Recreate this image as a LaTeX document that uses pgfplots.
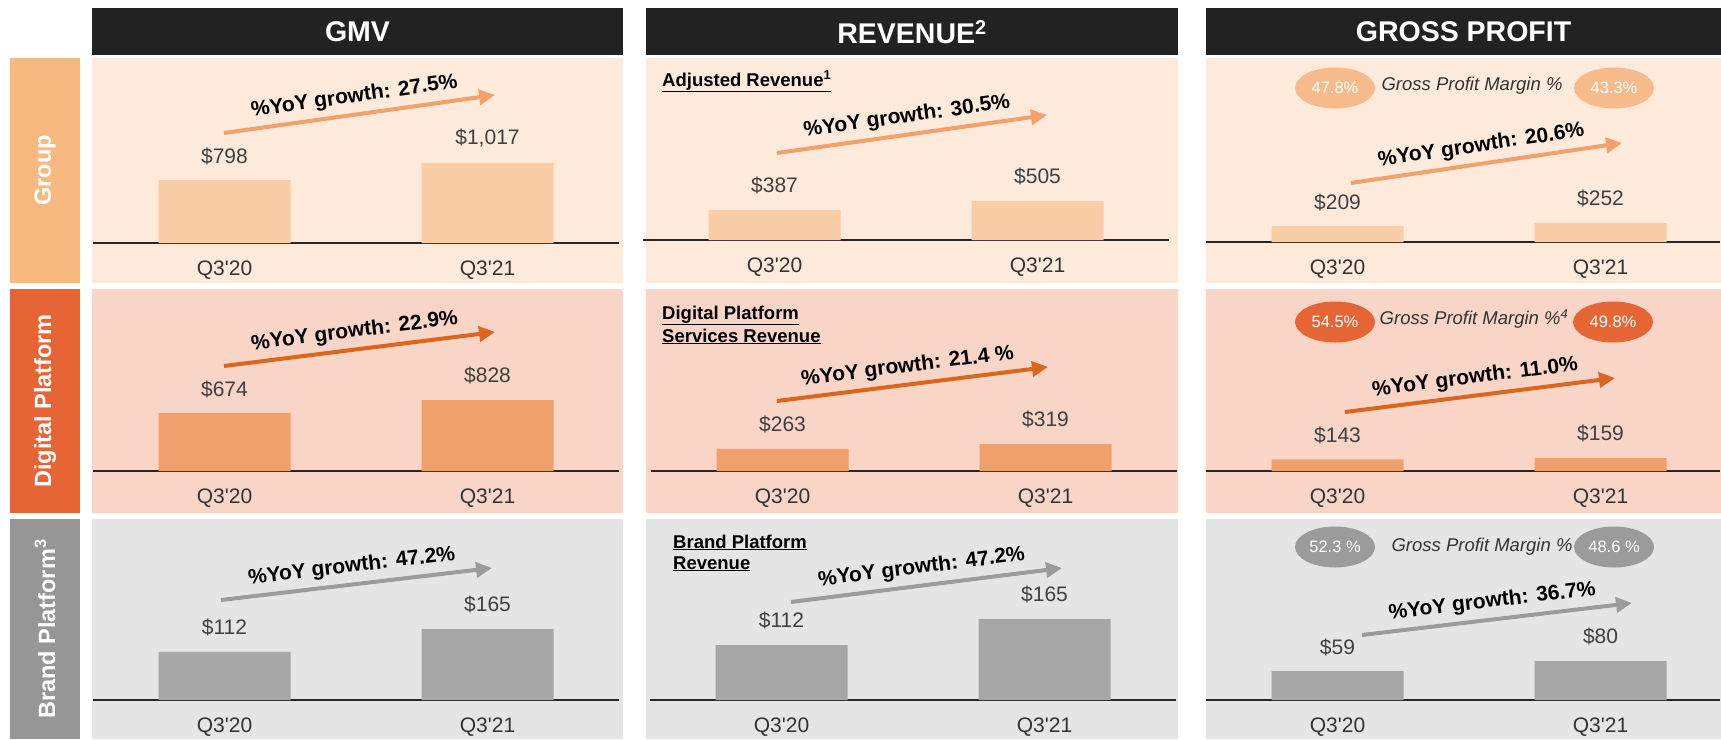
\documentclass[border=0pt]{standalone}
\usepackage{fontspec}
\setmainfont{Liberation Sans}[Ligatures=TeXOff]
\usepackage{pgfplots}
\pgfplotsset{compat=1.18}
\usetikzlibrary{arrows.meta}

\definecolor{hdr}{HTML}{222222}
\definecolor{strip1}{HTML}{F8B981}
\definecolor{bg1}{HTML}{FDEADB}
\definecolor{bar1}{HTML}{F9CEA7}
\definecolor{arr1}{HTML}{F2A16C}
\definecolor{ell1}{HTML}{F7BA8B}
\definecolor{strip2}{HTML}{E66534}
\definecolor{bg2}{HTML}{F8D5C6}
\definecolor{bar2}{HTML}{F0A06B}
\definecolor{arr2}{HTML}{DC6520}
\definecolor{strip3}{HTML}{969696}
\definecolor{bg3}{HTML}{E5E5E5}
\definecolor{bar3}{HTML}{A6A6A6}
\definecolor{arr3}{HTML}{9B9B9B}
\definecolor{axisc}{HTML}{262626}
\definecolor{valc}{HTML}{404040}
\definecolor{tickc}{HTML}{333333}

\newcommand\fs[1]{\fontsize{#1}{#1}\selectfont}

\pgfplotsset{
  panel/.style={
    x=263pt, xmin=-0.5, xmax=1.5, ymin=0,
    enlargelimits=false, clip=false,
    axis x line=bottom, axis y line=none,
    x axis line style={-, line width=2.5pt, color=axisc},
    xtick={0,1}, xticklabels={Q3'20,Q3'21},
    major tick length=0pt,
    xticklabel style={font=\fs{21}, text=tickc, anchor=base, inner sep=0pt, yshift=-32pt},
    ybar, bar width=132pt, bar shift=0pt,
    nodes near coords={\$\pgfmathprintnumber{\pgfplotspointmeta}},
    nodes near coords style={font=\fs{21}, text=valc, anchor=south, inner sep=0pt, yshift=15.5pt},
    /pgf/number format/.cd, 1000 sep={,}, assume math mode=true,
  },
}

\begin{document}
\begin{tikzpicture}
\useasboundingbox (0pt,0pt) rectangle (1721pt,-739pt);

% backgrounds, headers, row labels
\begin{scope}[x=1pt, y=-1pt]
  \fill[hdr] (92,8) rectangle (623,55);
  \fill[hdr] (646,8) rectangle (1178,55);
  \fill[hdr] (1206,8) rectangle (1721,55);
  \node[text=white, font=\bfseries\fs{28.5}] at (357.5,32) {GMV};
  \node[text=white, font=\bfseries\fs{28.5}] at (912,32) {REVENUE\textsuperscript{2}};
  \node[text=white, font=\bfseries\fs{28.5}] at (1463.5,32) {GROSS PROFIT};

  \fill[strip1] (10,58) rectangle (80,283);
  \fill[strip2] (10,289) rectangle (80,513);
  \fill[strip3] (10,519) rectangle (80,739);
  \node[rotate=90, text=white, font=\bfseries\fs{23.5}] at (45,170.5) {Group};
  \node[rotate=90, text=white, font=\bfseries\fs{23.5}] at (45,401) {Digital Platform};
  \node[rotate=90, text=white, font=\bfseries\fs{23.5}] at (45,629) {Brand Platform\textsuperscript{3}};

  \fill[bg1] (92,58) rectangle (623,283);
  \fill[bg1] (646,58) rectangle (1178,283);
  \fill[bg1] (1206,58) rectangle (1721,283);
  \fill[bg2] (92,289) rectangle (623,513);
  \fill[bg2] (646,289) rectangle (1178,513);
  \fill[bg2] (1206,289) rectangle (1721,513);
  \fill[bg3] (92,519) rectangle (623,739);
  \fill[bg3] (646,519) rectangle (1178,739);
  \fill[bg3] (1206,519) rectangle (1721,739);
\end{scope}

% GMV
\begin{axis}[panel, at={(93pt,-243pt)}, anchor=south west, y=0.0787pt, ymax=1150]
\addplot[fill=bar1, draw=none] coordinates {(0,798) (1,1017)};
\end{axis}
\begin{axis}[panel, at={(93pt,-471pt)}, anchor=south west, y=0.0857pt, ymax=950]
\addplot[fill=bar2, draw=none] coordinates {(0,674) (1,828)};
\end{axis}
\begin{axis}[panel, at={(93pt,-700pt)}, anchor=south west, y=0.430pt, ymax=190]
\addplot[fill=bar3, draw=none] coordinates {(0,112) (1,165)};
\end{axis}

% Revenue
\begin{axis}[panel, at={(643pt,-240pt)}, anchor=south west, y=0.0772pt, ymax=600]
\addplot[fill=bar1, draw=none] coordinates {(0,387) (1,505)};
\end{axis}
\begin{axis}[panel, at={(651pt,-471pt)}, anchor=south west, y=0.0846pt, ymax=380]
\addplot[fill=bar2, draw=none] coordinates {(0,263) (1,319)};
\end{axis}
\begin{axis}[panel, at={(650pt,-700pt)}, anchor=south west, y=0.491pt, ymax=190]
\addplot[fill=bar3, draw=none] coordinates {(0,112) (1,165)};
\end{axis}

% Gross profit
\begin{axis}[panel, at={(1206pt,-242pt)}, anchor=south west, xmax=1.456, y=0.0754pt, ymax=300]
\addplot[fill=bar1, draw=none] coordinates {(0,209) (1,252)};
\end{axis}
\begin{axis}[panel, at={(1206pt,-471pt)}, anchor=south west, xmax=1.456, y=0.0818pt, ymax=190]
\addplot[fill=bar2, draw=none] coordinates {(0,143) (1,159)};
\end{axis}
\begin{axis}[panel, at={(1206pt,-700pt)}, anchor=south west, xmax=1.456, y=0.4875pt, ymax=95]
\addplot[fill=bar3, draw=none] coordinates {(0,59) (1,80)};
\end{axis}

% annotations
\begin{scope}[x=1pt, y=-1pt, growth/.style={line width=4pt, -{Triangle[length=16pt,width=15pt]}},
  gtxt/.style={pos=0.49, sloped, above=2.5pt, font=\bfseries\fs{21}, text=black}]
  \draw[growth, arr1] (224,133) -- (495,95) node[gtxt] {\%YoY growth: 27.5\%};
  \draw[growth, arr1] (777,153) -- (1047,115) node[gtxt] {\%YoY growth: 30.5\%};
  \draw[growth, arr1] (1351,183) -- (1622,143) node[gtxt] {\%YoY growth: 20.6\%};
  \draw[growth, arr2] (224,366) -- (495,332) node[gtxt] {\%YoY growth: 22.9\%};
  \draw[growth, arr2] (777,401) -- (1048,367) node[gtxt] {\%YoY growth: 21.4 \%};
  \draw[growth, arr2] (1345,412) -- (1615,378) node[gtxt] {\%YoY growth: 11.0\%};
  \draw[growth, arr3] (221,600) -- (492,568) node[gtxt] {\%YoY growth: 47.2\%};
  \draw[growth, arr3] (791,602) -- (1062,568) node[gtxt] {\%YoY growth: 47.2\%};
  \draw[growth, arr3] (1362,635) -- (1632,603) node[gtxt] {\%YoY growth: 36.7\%};

  \node[anchor=base west, inner sep=0pt, font=\bfseries\fs{18.5}] at (662,86) {\underline{Adjusted Revenue\textsuperscript{1}}};
  \node[anchor=base west, inner sep=0pt, font=\bfseries\fs{18.5}] at (662,319) {\underline{Digital Platform}};
  \node[anchor=base west, inner sep=0pt, font=\bfseries\fs{18.5}] at (662,342) {\underline{Services Revenue}};
  \node[anchor=base west, inner sep=0pt, font=\bfseries\fs{18.5}] at (673,548) {\underline{Brand Platform}};
  \node[anchor=base west, inner sep=0pt, font=\bfseries\fs{18.5}] at (673,569) {\underline{Revenue}};

  \fill[ell1] (1335,88) ellipse [x radius=40pt, y radius=20.5pt];
  \fill[ell1] (1614,88) ellipse [x radius=40pt, y radius=20.5pt];
  \node[text=white, font=\fs{16.5}] at (1335,88) {47.8\%};
  \node[text=white, font=\fs{16.5}] at (1614,88) {43.3\%};
  \node[text=tickc, font=\itshape\fs{18.5}] at (1472,86) {Gross Profit Margin \%};

  \fill[strip2] (1335,322) ellipse [x radius=40pt, y radius=20.5pt];
  \fill[strip2] (1613,322) ellipse [x radius=40pt, y radius=20.5pt];
  \node[text=white, font=\fs{16.5}] at (1335,322) {54.5\%};
  \node[text=white, font=\fs{16.5}] at (1613,322) {49.8\%};
  \node[text=tickc, font=\itshape\fs{18.5}] at (1474,319) {Gross Profit Margin \%\textsuperscript{4}};

  \fill[arr3] (1335,547) ellipse [x radius=40pt, y radius=20.5pt];
  \fill[arr3] (1614,547) ellipse [x radius=40pt, y radius=20.5pt];
  \node[text=white, font=\fs{16.5}] at (1335,547) {52.3 \%};
  \node[text=white, font=\fs{16.5}] at (1614,547) {48.6 \%};
  \node[text=tickc, font=\itshape\fs{18.5}] at (1482,547) {Gross Profit Margin \%};
\end{scope}
\end{tikzpicture}
\end{document}
